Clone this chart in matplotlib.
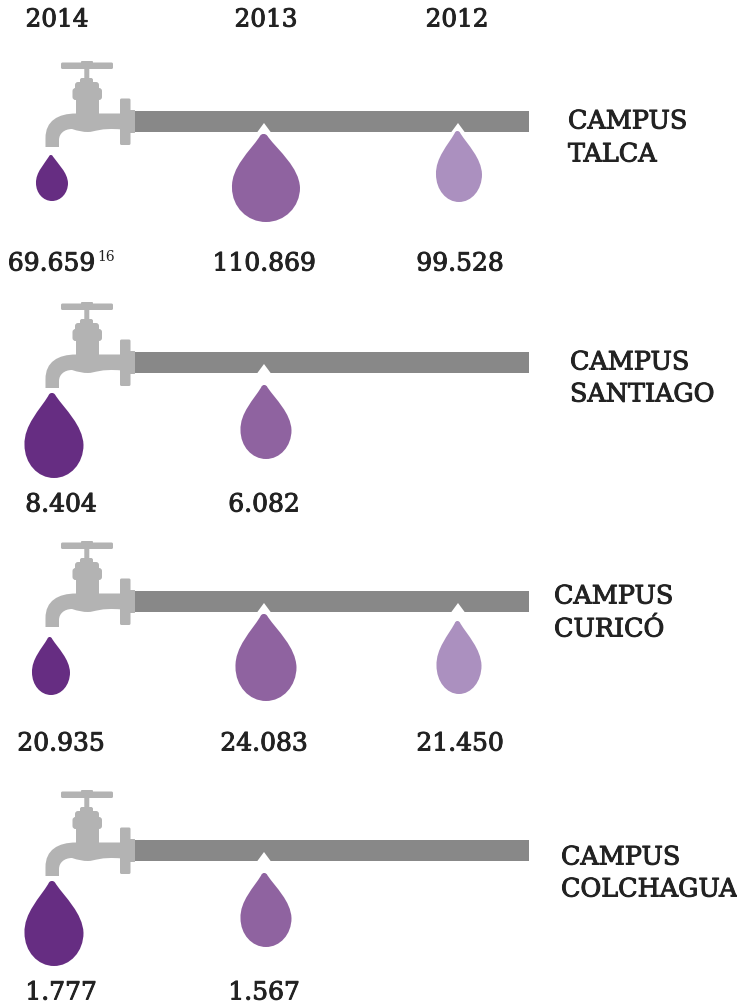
#!/usr/bin/env python
# Water consumption per campus, drawn as taps and drops
import matplotlib
matplotlib.use('Agg')
import matplotlib.pyplot as plt
import matplotlib.patheffects as pe
from matplotlib.path import Path
from matplotlib.patches import PathPatch, Rectangle, FancyBboxPatch, Polygon

years = [2014, 2013, 2012]
campus_lines = [['CAMPUS', 'TALCA'], ['CAMPUS', 'SANTIAGO'], ['CAMPUS', 'CURICÓ'], ['CAMPUS', 'COLCHAGUA']]
values_2014 = [69659, 8404, 20935, 1777]
values_2013 = [110869, 6082, 24083, 1567]
values_2012 = [99528, None, 21450, None]

# layout, in pixels
year_colors = ['#662d82', '#8f63a0', '#ab90bf']
year_x = [57, 266, 457]
value_x = [61, 264, 460]
pipe_top = [111, 352, 591, 840]
value_y = [264, 505, 744, 993]
label_x = [568, 570, 554, 561]
label_y = [(122, 155), (363, 395), (597, 630), (858, 890)]
# drop boxes per row and year: centre x, top, bottom, width
drop_boxes = [
    [(52, 155, 201, 32), (266, 134, 222, 68), (459, 131, 202, 46)],
    [(54, 393, 478, 59), (266, 385, 459, 51), None],
    [(51, 637, 695, 38), (266, 614, 701, 61), (459, 621, 694, 45)],
    [(54, 881, 966, 59), (266, 873, 947, 51), None],
]
notch_x = [None, 264, 458]

TAP = '#b3b3b3'
PIPE = '#888888'
TEXT = '#222222'
FONT = 'DejaVu Serif'
THICK = [pe.withStroke(linewidth=0.7, foreground=TEXT)]

fig = plt.figure(figsize=(7.37, 10.06), dpi=100)
ax = fig.add_axes([0, 0, 1, 1])
ax.set_xlim(0, 737)
ax.set_ylim(1006, 0)
ax.axis('off')


def fmt(v):
    return f'{v:,}'.replace(',', '.')


def draw_drop(cx, top, bottom, width, color):
    h = bottom - top
    w = width / 2
    pts = [(0, 0), (0.05, 0), (0.09, 0.005), (0.13, 0.035),
           (0.42, 0.19), (1, 0.38), (1, 0.61),
           (1, 0.83), (0.55, 1), (0, 1),
           (-0.55, 1), (-1, 0.83), (-1, 0.61),
           (-1, 0.38), (-0.42, 0.19), (-0.13, 0.035),
           (-0.09, 0.005), (-0.05, 0), (0, 0)]
    codes = [Path.MOVETO] + [Path.CURVE4] * 18
    # the tip leans a little to the left of the belly
    verts = [(cx + x * w - 0.035 * width * max(0.61 - y, 0) / 0.61, top + y * h) for x, y in pts]
    ax.add_patch(PathPatch(Path(verts, codes), fc=color, ec='none'))


def draw_tap(y0):
    def box(x0, y_a, x1, y_b, r=1.0):
        ax.add_patch(FancyBboxPatch((x0 + r, y0 + y_a + r), x1 - x0 - 2 * r, y_b - y_a - 2 * r,
                                    boxstyle=f'round,pad={r}', fc=TAP, ec='none'))
    box(61, -48.5, 113, -42, 1.5)  # handle
    box(81, -50, 93, -47)
    box(84.3, -43, 89.3, -30, 0.5)  # stem
    box(80, -33, 93, -27, 2)
    box(75, -29, 99, -20, 3)
    box(72.5, -23, 102, -11, 3)
    box(76, -14, 99, 4, 0.5)
    box(120, -12.5, 130.5, 34, 1.5)  # flange
    box(129, -1, 135, 22, 0.5)     # collar
    # spout
    verts = [(76, 2.5), (58, 2.5), (45.5, 10), (45.5, 27),
             (45.5, 36), (59, 36), (59, 29), (59, 23), (64, 18), (72, 18),
             (78, 20), (83, 21), (88, 21), (95, 21), (100, 16.5), (122, 18.5),
             (122, 2.5), (76, 2.5)]
    codes = [Path.MOVETO, Path.CURVE4, Path.CURVE4, Path.CURVE4,
             Path.LINETO, Path.LINETO, Path.LINETO, Path.CURVE4, Path.CURVE4, Path.CURVE4,
             Path.CURVE4, Path.CURVE4, Path.CURVE4, Path.CURVE4, Path.CURVE4, Path.CURVE4,
             Path.LINETO, Path.CLOSEPOLY]
    verts = [(x, y0 + y) for x, y in verts]
    ax.add_patch(PathPatch(Path(verts, codes), fc=TAP, ec='none'))


for x, y in zip(year_x, years):
    ax.text(x, 20, str(y), ha='center', va='center', fontsize=17.8, family=FONT, color=TEXT, path_effects=THICK)

for row, y0 in enumerate(pipe_top):
    ax.add_patch(Rectangle((135, y0), 394, 21, fc=PIPE, ec='none'))
    draw_tap(y0)
    vals = [values_2014[row], values_2013[row], values_2012[row]]
    for i, v in enumerate(vals):
        if v is None:
            continue
        if notch_x[i] is not None:
            nx = notch_x[i]
            ax.add_patch(Polygon([(nx - 7, y0 + 21.5), (nx, y0 + 12), (nx + 7, y0 + 21.5)], fc='white', ec='none'))
        cx, top, bottom, width = drop_boxes[row][i]
        draw_drop(cx, top, bottom, width, year_colors[i])
        tx = 51.5 if row == 0 and i == 0 else value_x[i]
        ax.text(tx, value_y[row], fmt(v), ha='center', va='center', fontsize=18,
                family=FONT, color=TEXT, path_effects=THICK)
    for line, ly in zip(campus_lines[row], label_y[row]):
        ax.text(label_x[row], ly, line, ha='left', va='center', fontsize=18.3,
                family=FONT, color=TEXT, path_effects=THICK)

# footnote mark on the first value
ax.text(97, 257, '16', ha='left', va='center', fontsize=10, family=FONT, color=TEXT)

fig.savefig('out.png', dpi=100)
